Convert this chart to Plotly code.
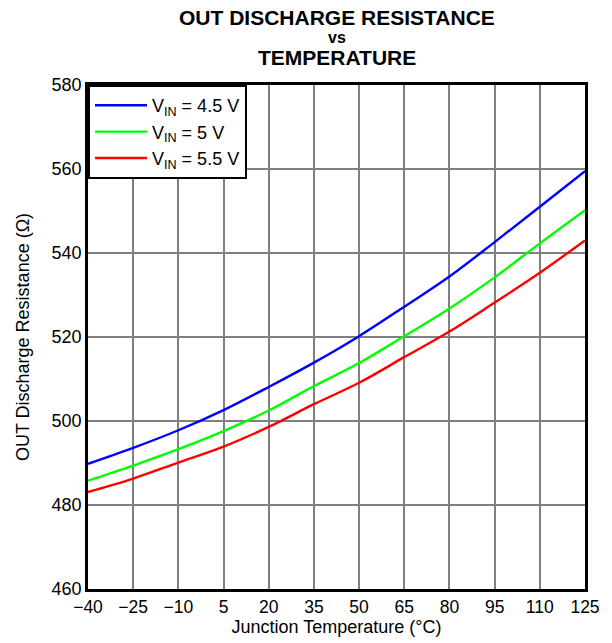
import plotly.graph_objects as go

temps = [-40, -25, -10, 5, 20, 35, 50, 65, 80, 95, 110, 125]
r_45 = [489.8, 493.6, 497.8, 502.6, 508.1, 513.9, 520.2, 527.2, 534.4, 542.6, 551.0, 559.5]
r_50 = [485.8, 489.4, 493.3, 497.6, 502.5, 508.3, 513.8, 520.2, 526.8, 534.2, 542.3, 550.2]
r_55 = [483.1, 486.3, 490.1, 493.9, 498.6, 504.0, 509.1, 515.2, 521.3, 528.2, 535.3, 543.0]
names = ["V<sub>IN</sub> = 4.5 V", "V<sub>IN</sub> = 5 V", "V<sub>IN</sub> = 5.5 V"]
colors = ["#0000FF", "#00FF00", "#FF0000"]
x_ticks = [-40, -25, -10, 5, 20, 35, 50, 65, 80, 95, 110, 125]
y_ticks = [460, 480, 500, 520, 540, 560, 580]
title_lines = ["OUT DISCHARGE RESISTANCE", "vs", "TEMPERATURE"]

font = "Liberation Sans, Arial, sans-serif"
fig = go.Figure()
for ys, n, c in zip([r_45, r_50, r_55], names, colors):
    fig.add_trace(go.Scatter(x=temps, y=ys, mode="lines", name=n,
                             line=dict(color=c, width=2.4, shape="spline")))

title_y = [1.133, 1.094, 1.054]
title_sizes = [21, 16, 21]
for t, yy, sz in zip(title_lines, title_y, title_sizes):
    fig.add_annotation(text="<b>" + t + "</b>", xref="paper", yref="paper",
                       x=0.5, y=yy, xanchor="center", yanchor="middle",
                       showarrow=False, font=dict(family=font, size=sz, color="black"))

fig.update_layout(
    width=612, height=643,
    margin=dict(l=88, r=17, t=85, b=54),
    paper_bgcolor="white", plot_bgcolor="white",
    font=dict(family=font, color="black", size=17),
    showlegend=True,
    legend=dict(x=0, y=1, xanchor="left", yanchor="top",
                bgcolor="white", bordercolor="black", borderwidth=2,
                font=dict(family=font, size=18, color="black"),
                tracegroupgap=0, itemwidth=52),
)
fig.update_xaxes(
    range=[-40, 125], tickvals=x_ticks, ticks="", showgrid=True,
    gridcolor="#808080", gridwidth=1.5, zeroline=False,
    showline=True, linecolor="black", linewidth=2.5, mirror=True,
    tickfont=dict(size=17.5),
    title=dict(text="Junction Temperature (°C)", font=dict(size=18), standoff=0),
)
fig.update_yaxes(
    range=[460, 580], tickvals=y_ticks, ticks="", showgrid=True,
    gridcolor="#808080", gridwidth=1.5, zeroline=False,
    showline=True, linecolor="black", linewidth=2.5, mirror=True,
    tickfont=dict(size=18),
    title=dict(text="OUT Discharge Resistance (Ω)", font=dict(size=18), standoff=18),
)
fig.write_html("out.html", config={"displayModeBar": False},
               post_script="document.body.style.margin='0px';")
